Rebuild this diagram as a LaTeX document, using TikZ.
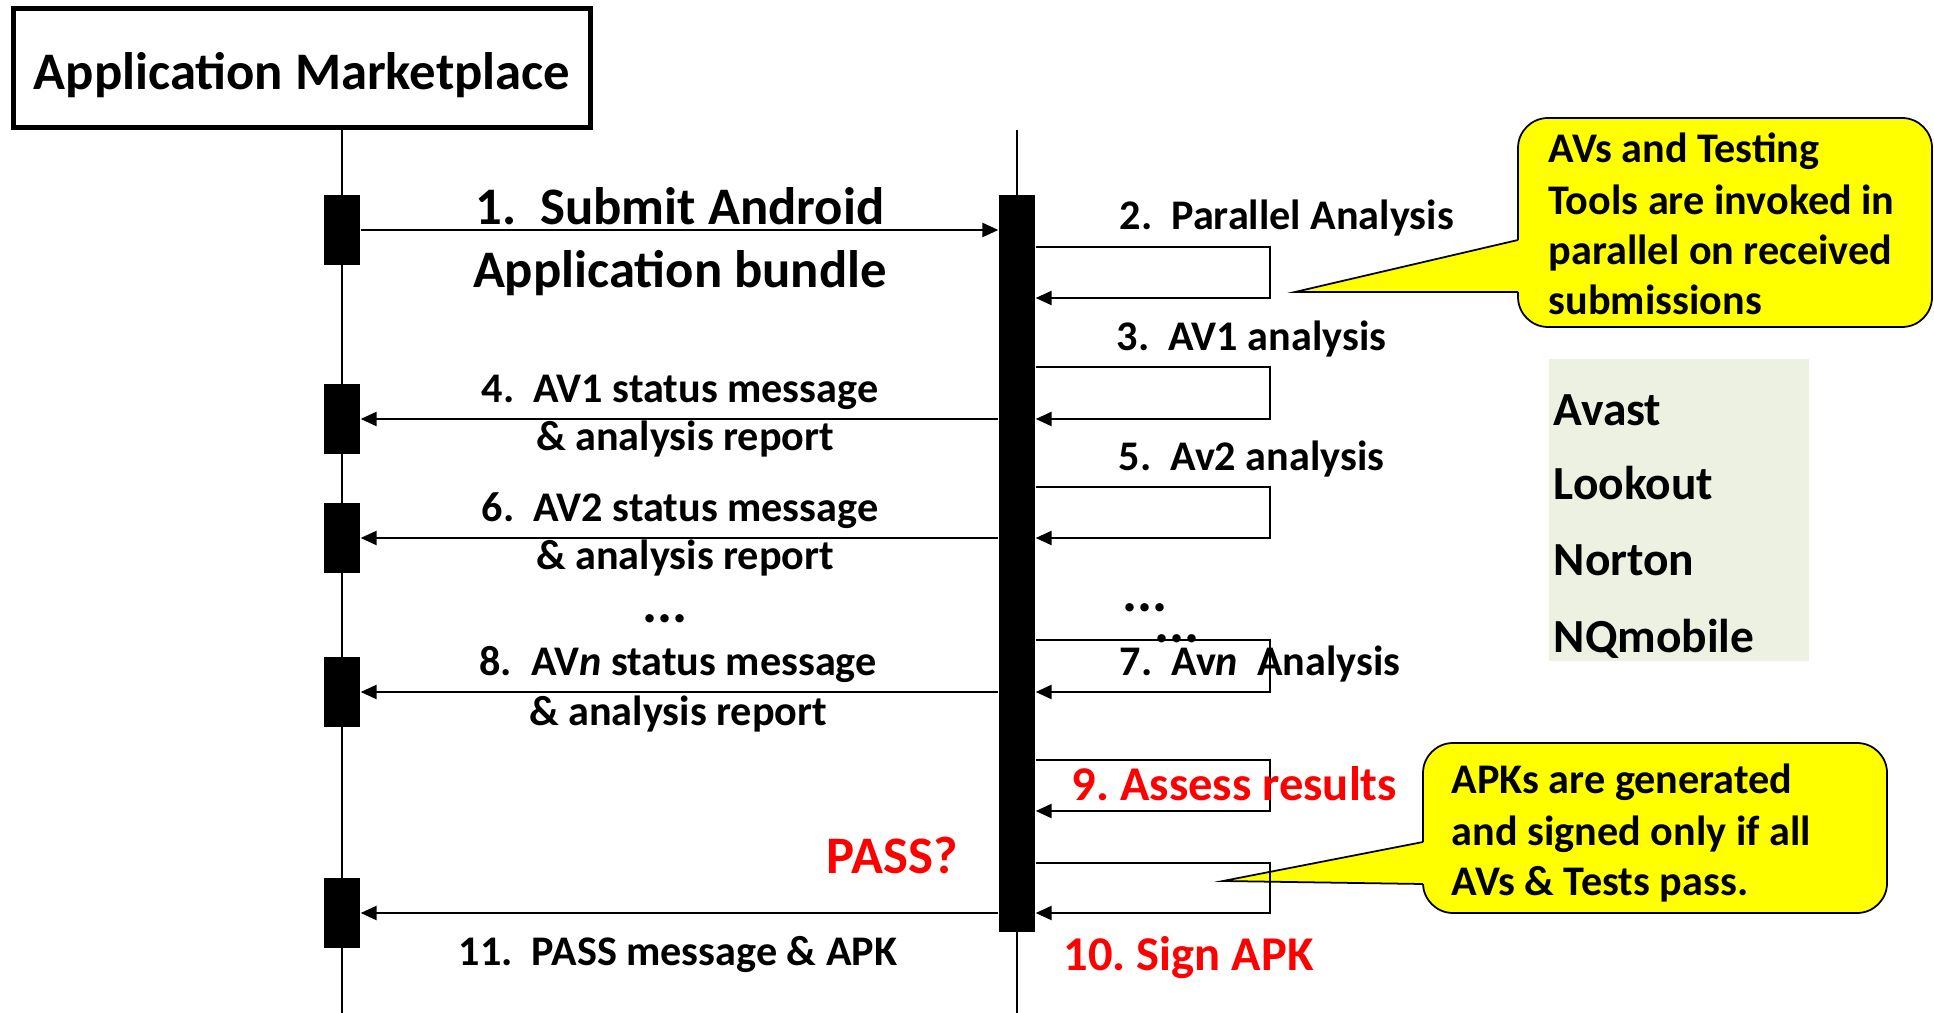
\documentclass[tikz,border=0pt]{standalone}
\usepackage{fontspec}
\setmainfont{Carlito}
\usetikzlibrary{arrows.meta}
\definecolor{noteyellow}{RGB}{255,255,0}
\definecolor{avgreen}{RGB}{236,241,226}
\frenchspacing

\begin{document}
\begin{tikzpicture}[x=0.01cm, y=-0.01cm,
    msg/.style={line width=0.55pt, -{Triangle[length=4.5pt,width=4pt]}},
    life/.style={line width=0.45pt},
    act/.style={fill=black, inner sep=0pt, minimum width=0.36cm, minimum height=0.69cm},
    txt/.style={inner sep=0pt, font=\fontsize{12}{14}\selectfont\bfseries},
    big/.style={inner sep=0pt, font=\fontsize{15}{18}\selectfont\bfseries},
    dots/.style={inner sep=0pt, font=\fontsize{16}{18}\selectfont\bfseries},
    redtxt/.style={inner sep=0pt, text=red, font=\fontsize{13.8}{16}\selectfont\bfseries},
    listtxt/.style={inner sep=0pt, font=\fontsize{13.5}{16}\selectfont\bfseries},
    note/.style={draw=black, line width=0.5pt, fill=noteyellow, rounded corners=0.3cm}]
    \useasboundingbox (0,0) rectangle (1934,1013);

    % market and its lifeline
    \node[draw, line width=1.4pt, inner sep=0pt, minimum width=5.77cm, minimum height=1.19cm,
        text height=0.44cm, text depth=0pt, anchor=base, font=\fontsize{15}{18}\selectfont\bfseries]
        (market) at (302,90) {Application Marketplace};

    \node[act] (a1) at (342,230) {};
    \node[act] (a2) at (342,419) {};
    \node[act] (a3) at (342,538) {};
    \node[act] (a4) at (342,692) {};
    \node[act] (a5) at (342,913) {};
    \node[fill=black, inner sep=0pt, minimum width=0.36cm, minimum height=7.37cm] (bar) at (1017,563.5) {};

    \draw[life] (market.south -| a1) -- (a1 |- 0,1013);
    \draw[life] (market.south -| bar) -- (bar |- 0,1013);

    % callouts
    \draw[note] (1518,118) rectangle (1932,327);
    \fill[noteyellow] (1519.5,240) -- (1295,292) -- (1519.5,292) -- cycle;
    \draw[line width=0.5pt] (1518,240) -- (1295,292) -- (1518,292);
    \foreach \y/\s [count=\i] in {163/AVs and Testing, 215/Tools are invoked in, 265/parallel on received, 315/submissions}
        \node[txt, anchor=base west] (note1-\i) at (1548,\y) {\s};

    \draw[note] (1423,743) rectangle (1887,913);
    \fill[noteyellow] (1424.5,842) -- (1223,881) -- (1424.5,884) -- cycle;
    \draw[line width=0.5pt] (1423,842) -- (1223,881) -- (1423,884);
    \foreach \y/\s [count=\i] in {793/APKs are generated, 845/and signed only if all, 895/AVs \& Tests pass.}
        \node[txt, anchor=base west] (note2-\i) at (1451,\y) {\s};

    % AV list
    \fill[avgreen] (1549,359) rectangle (1809,661);
    \foreach \y/\s [count=\i] in {426/Avast, 500/Lookout, 576/Norton, 652/NQmobile}
        \node[listtxt, anchor=base west] (av-\i) at (1553,\y) {\s};

    % messages
    \draw[msg] (a1.east) -- (a1.east -| bar.west);
    \draw[msg] (a2.east -| bar.west) -- (a2.east);
    \draw[msg] (a3.east -| bar.west) -- (a3.east);
    \draw[msg] (a4.east -| bar.west) -- (a4.east);
    \draw[msg] (a5.east -| bar.west) -- (a5.east);

    \foreach \t/\b in {247/298, 367/419, 487/538, 640/692, 760/811, 863/913}
        \draw[msg] (bar.east |- 0,\t) -| (1270,\b) -- (bar.east |- 0,\b);

    \node[big, anchor=base] (m1a) at (680,225) {1.~ Submit Android};
    \node[big, anchor=base] (m1b) at (680,288) {Application bundle};
    \node[txt, anchor=base] (m4a) at (680,403) {4.~ AV1 status message};
    \node[txt, anchor=base] (m4b) at (685,451) {\& analysis report};
    \node[txt, anchor=base] (m6a) at (680,522) {6.~ AV2 status message};
    \node[txt, anchor=base] (m6b) at (685,570) {\& analysis report};
    \node[dots, anchor=base] (mdots) at (665,623) {...};
    \node[txt, anchor=base] (m8a) at (678,675) {8.~ AV\textit{n} status message};
    \node[txt, anchor=base] (m8b) at (678,725) {\& analysis report};
    \node[txt, anchor=base west] (m11) at (458,965) {11.~ PASS message \& APK};

    \node[txt, anchor=base west] (s2) at (1119,230) {2.~ Parallel Analysis};
    \node[txt, anchor=base west] (s3) at (1116,351) {3.~ AV1 analysis};
    \node[txt, anchor=base west] (s5) at (1118,471) {5.~ Av2 analysis};
    \node[dots, anchor=base west] (sdots1) at (1122,611) {...};
    \node[dots, anchor=base west] (sdots2) at (1154,642) {...};
    \node[txt, anchor=base west] (s7) at (1119,675) {7.~ Av\textit{n}~ Analysis};
    \node[redtxt, anchor=base west] (s9) at (1071,800) {9. Assess results};
    \node[redtxt, font=\fontsize{15}{18}\selectfont\bfseries, anchor=base west] (pass) at (826,873) {PASS?};
    \node[redtxt, anchor=base west] (s10) at (1063,970) {10. Sign APK};
\end{tikzpicture}
\end{document}
